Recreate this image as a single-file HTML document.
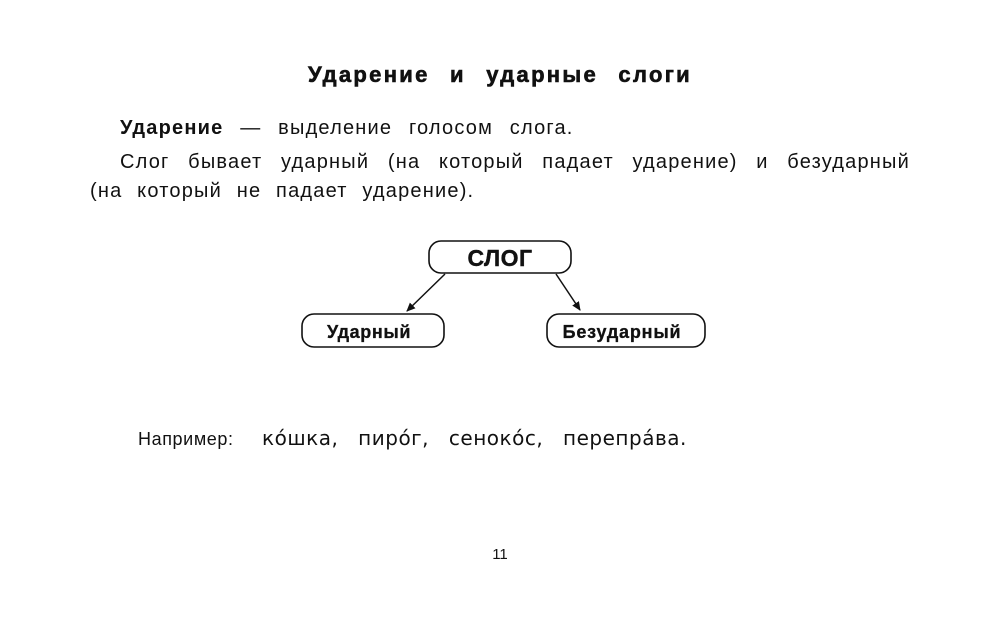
<!DOCTYPE html>
<html><head><meta charset="utf-8"><style>
body{margin:0;width:1000px;height:619px;background:#fff;position:relative;font-family:"Liberation Sans",sans-serif;color:#111;overflow:hidden}
.t{position:absolute;white-space:nowrap}
</style></head><body>
<div class="t" style="left:0;width:1000px;text-align:center;top:62px;font-size:22px;font-weight:bold;word-spacing:12px;letter-spacing:2.3px;-webkit-text-stroke:0.6px #111">Ударение и ударные слоги</div>
<div class="t" style="left:120px;top:117px;font-size:20px;word-spacing:10px;letter-spacing:1.2px"><b>Ударение</b> — выделение голосом слога.</div>
<div class="t" style="left:120px;top:151px;font-size:20px;width:790px;letter-spacing:1.2px;text-align:justify;text-align-last:justify">Слог бывает ударный (на который падает ударение) и безударный</div>
<div class="t" style="left:90px;top:180px;font-size:20px;word-spacing:8px;letter-spacing:1.2px">(на который не падает ударение).</div>
<svg style="position:absolute;left:0;top:0" width="1000" height="619">
<defs><marker id="a" markerWidth="10" markerHeight="10" refX="8" refY="4" orient="auto" markerUnits="userSpaceOnUse"><path d="M0,0 L9,4 L0,8 Z" fill="#111"/></marker></defs>
<rect x="429" y="241" width="142" height="32" rx="12" fill="none" stroke="#111" stroke-width="1.6"/>
<rect x="302" y="314" width="142" height="33" rx="12" fill="none" stroke="#111" stroke-width="1.6"/>
<rect x="547" y="314" width="158" height="33" rx="12" fill="none" stroke="#111" stroke-width="1.6"/>
<line x1="445" y1="274" x2="407" y2="311" stroke="#111" stroke-width="1.5" marker-end="url(#a)"/>
<line x1="556" y1="274" x2="580" y2="310" stroke="#111" stroke-width="1.5" marker-end="url(#a)"/>
<text x="500" y="266" text-anchor="middle" font-family="Liberation Sans" font-weight="bold" font-size="23" letter-spacing="0.5" fill="#111" stroke="#111" stroke-width="0.4">СЛОГ</text>
<text x="369" y="338" text-anchor="middle" font-family="Liberation Sans" font-weight="bold" font-size="18" letter-spacing="0.6" fill="#111" stroke="#111" stroke-width="0.3">Ударный</text>
<text x="622" y="338" text-anchor="middle" font-family="Liberation Sans" font-weight="bold" font-size="18" letter-spacing="0.8" fill="#111" stroke="#111" stroke-width="0.3">Безударный</text>
</svg>
<div class="t" style="left:138px;top:429px;font-size:18px;letter-spacing:0.6px">Например:</div>
<div class="t" style="left:262px;top:426px;font-size:20px;word-spacing:13px;letter-spacing:0.5px;font-family:'DejaVu Sans',sans-serif">ко́шка, пиро́г, сеноко́с, перепра́ва.</div>
<div class="t" style="left:0;width:1000px;text-align:center;top:546px;font-size:15px">11</div>
</body></html>
